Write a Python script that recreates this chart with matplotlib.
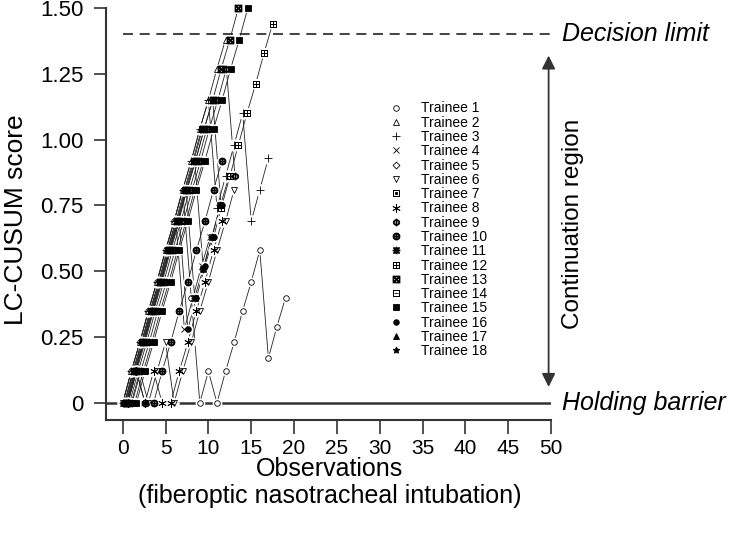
import numpy as np
import matplotlib.pyplot as plt
from matplotlib.lines import Line2D

plt.rcParams['font.family'] = ['Liberation Sans', 'DejaVu Sans']

t1 = [0, 0.12, 0.23, 0.35, 0.46, 0.58, 0.69, 0.81, 0.40, 0, 0.12, 0, 0.12, 0.23, 0.35, 0.46, 0.58, 0.17, 0.29, 0.40]
t2 = [0, 0.12, 0.23, 0.35, 0.46, 0.58, 0.69, 0.81, 0.92, 1.04, 1.15, 1.27, 1.38]
t3 = [0, 0.12, 0.23, 0.35, 0.46, 0.58, 0.69, 0.81, 0.92, 1.04, 1.15, 0.74, 0.86, 0.98, 1.10, 0.69, 0.81, 0.93]
t4 = [0, 0.12, 0.23, 0.35, 0.46, 0.58, 0.69, 0.28, 0.40, 0.52, 0.63]
t5 = [0, 0.12, 0.23, 0.35, 0.46, 0.58, 0.69, 0.81, 0.92, 0.51, 0.63, 0.75, 0.86]
t6 = [0, 0, 0.12, 0, 0.12, 0.23, 0, 0.12, 0.23, 0.35, 0.46, 0.58, 0.69, 0.81]
t7 = [0, 0.12, 0.23, 0.35, 0.46, 0.58, 0.69, 0.81, 0.92, 1.04]
t8 = [0, 0.12, 0, 0.12, 0, 0, 0.12, 0.23, 0.35, 0.46, 0.58, 0.69]
t9 = [0, 0, 0.12, 0.23, 0.35, 0.46, 0.58, 0.69, 0.81, 0.92, 1.04, 1.15, 1.27, 0.86]
t10 = [0, 0.12, 0, 0, 0.12, 0.23, 0.35, 0.46, 0.58, 0.69, 0.81, 0.92]
t11 = [0, 0.12, 0.23, 0.35, 0.46, 0.58, 0.69, 0.81, 0.40, 0.51, 0.63, 0.75]
t12 = [0, 0.12, 0.23, 0.35, 0.46, 0.58, 0.69, 0.81, 0.92, 1.04, 1.15, 0.74, 0.86, 0.98, 1.10, 1.21, 1.33, 1.44]
t13 = [0, 0.12, 0.23, 0.35, 0.46, 0.58, 0.69, 0.81, 0.92, 1.04, 1.15, 1.27, 1.38, 1.50]
t14 = [0, 0.12, 0.23, 0.35, 0.46, 0.58, 0.69, 0.81, 0.92, 1.04]
t15 = [0, 0, 0.12, 0.23, 0.35, 0.46, 0.58, 0.69, 0.81, 0.92, 1.04, 1.15, 1.27, 1.38, 1.50]
t16 = [0, 0.12, 0.23, 0.35, 0.46, 0.58, 0.69, 0.28, 0.40, 0.52, 0.63, 0.75]
t17 = [0, 0.12, 0.23, 0.35, 0.46, 0.58, 0.69, 0.81, 0.92, 1.04]
t18 = [0, 0, 0.12, 0.23, 0.35, 0.46, 0.58, 0.69, 0.81, 0.92]
scores = [t1, t2, t3, t4, t5, t6, t7, t8, t9, t10, t11, t12, t13, t14, t15, t16, t17, t18]

# small horizontal jitter used in the figure so trainees do not overlap
shift = [0, 0, 0, 0.2, 0.4, 0, 0.3, 0.6, 0.1, 0.6, 0.4, 0.5, 0.5, 0.8, 0.6, 0.6, 0.2, 0.4]

names = ['Trainee %d' % (i + 1) for i in range(18)]
decision_limit = 1.40
xticks = np.arange(0, 51, 5)
yticks = [0, 0.25, 0.5, 0.75, 1.0, 1.25, 1.5]
ylabels = ['0', '0.25', '0.50', '0.75', '1.00', '1.25', '1.50']

markers = ['o', '^', '+', 'x', 'D', 'v', r'$\boxdot$', (6, 2, 0), r'$\Phi$', r'$\oplus$',
           r'$\divideontimes$', r'$\boxplus$', r'$\boxtimes$', r'$\boxminus$', 's', 'o', '^', (5, 1, 0)]
msize = [4, 4, 6, 4, 3.5, 4.5, 5, 6, 5, 5, 5, 5, 5, 5, 4, 4, 4.5, 5]
filled = [False, False, True, True, False, False, True, True, True, True, True, True, True, True,
          True, True, True, True]

fig = plt.figure(figsize=(7.31, 5.34), dpi=100)
ax = fig.add_axes([0.145, 0.2135, 0.609, 0.7715])

for i in range(18):
    y = scores[i]
    x = np.arange(len(y)) + shift[i]
    fc = 'black' if filled[i] else 'white'
    ax.plot(x, y, '-', color='#222222', lw=0.6, clip_on=False, zorder=3)
    # white halo so the connecting lines stop short of the symbols
    ax.plot(x, y, ls='none', marker='o', ms=msize[i] + 3, mfc='white', mec='none',
            clip_on=False, zorder=4)
    ax.plot(x, y, ls='none', marker=markers[i], ms=msize[i], mfc=fc, mec='black', mew=0.6,
            clip_on=False, zorder=5)

ax.axhline(0, color='#333333', lw=1.8, zorder=2)
ax.plot([0, 50], [decision_limit, decision_limit], '--', color='#222222', lw=1.2,
        dashes=(6, 4), zorder=2)

ax.set_xlim(-1.95, 50)
ax.set_ylim(-0.065, 1.5)
ax.set_xticks(xticks)
ax.set_yticks(yticks)
ax.set_yticklabels(ylabels)
ax.tick_params(axis='y', labelsize=16, length=9, width=1.2, color='#333333', pad=7)
ax.tick_params(axis='x', labelsize=15, length=10, width=1.2, color='#333333', pad=4)
for s in ['top', 'right']:
    ax.spines[s].set_visible(False)
for s in ['left', 'bottom']:
    ax.spines[s].set_linewidth(1.5)
    ax.spines[s].set_color('#333333')

ax.set_ylabel('LC-CUSUM score', fontsize=19)
ax.yaxis.set_label_coords(-0.175, 0.485)
ax.set_xlabel('Observations\n(fiberoptic nasotracheal intubation)', fontsize=18,
              linespacing=1.15)
ax.xaxis.set_label_coords(0.503, -0.09)

ax.annotate('', xy=(49.7, 1.33), xytext=(49.7, 0.05),
            arrowprops=dict(arrowstyle='<|-|>', color='#333333', lw=1.3,
                            mutation_scale=20), annotation_clip=False)
ax.text(51.3, decision_limit, 'Decision limit', fontsize=18, style='italic',
        va='center', ha='left', clip_on=False)
ax.text(51.3, 0, 'Holding barrier', fontsize=18, style='italic',
        va='center', ha='left', clip_on=False)
ax.text(52.6, 0.68, 'Continuation region', fontsize=17.5, rotation=90,
        va='center', ha='center', clip_on=False)

handles = []
for i in range(18):
    fc = 'black' if filled[i] else 'white'
    handles.append(Line2D([], [], ls='none', marker=markers[i], ms=msize[i],
                          mfc=fc, mec='black', mew=0.6))
ax.legend(handles, names, loc='upper left', bbox_to_anchor=(0.62, 0.79), frameon=False,
          fontsize=10, handlelength=1.0, handletextpad=1.3, labelspacing=0.02,
          borderpad=0)

fig.savefig('out.png', dpi=100)
